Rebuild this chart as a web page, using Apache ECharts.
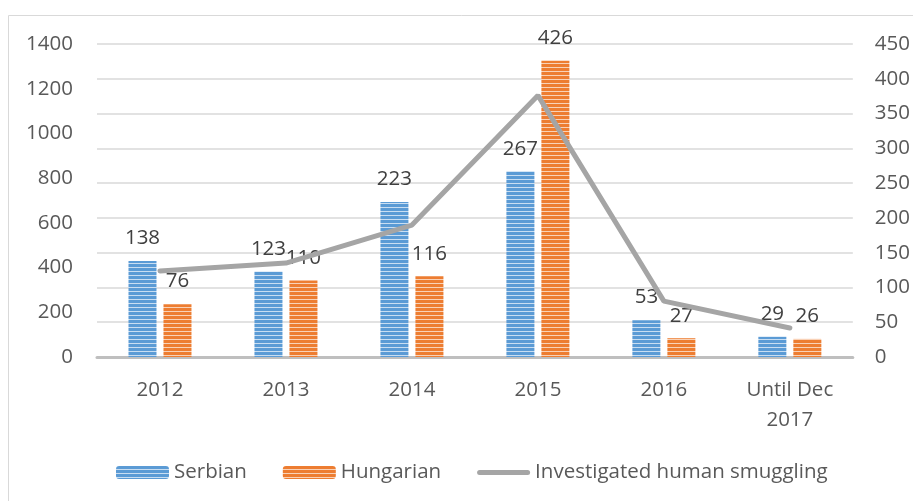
<!DOCTYPE html>
<html>
<head>
<meta charset="utf-8">
<script src="https://cdn.jsdelivr.net/npm/echarts@6/dist/echarts.min.js"></script>
<style>
  html, body { margin: 0; padding: 0; background: #fff; }
  #chart { width: 913px; height: 501px; }
</style>
</head>
<body>
<div id="chart"></div>
<script>
const categories = ["2012", "2013", "2014", "2015", "2016", "Until Dec\n2017"];
const serbian = [138, 123, 223, 267, 53, 29];
const hungarian = [76, 110, 116, 426, 27, 26];
const investigated = [385, 420, 590, 1170, 250, 130];

const font = '"Open Sans", sans-serif';
const fs = 20.5;

// horizontal striped fill like the Office "narrow horizontal" pattern
const stripes = (base, light) => {
  const c = document.createElement("canvas");
  c.width = 4;
  c.height = 4;
  const ctx = c.getContext("2d");
  ctx.fillStyle = base;
  ctx.fillRect(0, 0, 4, 4);
  ctx.fillStyle = light;
  ctx.fillRect(0, 3, 4, 1);
  return { image: c, repeat: "repeat" };
};

const chart = echarts.init(document.getElementById("chart"));

const barLabel = {
  show: true,
  position: "top",
  distance: 12,
  color: "#404040",
  fontSize: fs,
  fontFamily: font,
};

chart.setOption({
  animation: false,
  textStyle: { fontFamily: font },
  graphic: [
    {
      type: "rect",
      shape: { x: 8.5, y: 15.5, width: 1000, height: 1000 },
      style: { fill: "none", stroke: "#d9d9d9", lineWidth: 1 },
      silent: true,
    },
  ],
  grid: { left: 97, right: 60, top: 44, bottom: 144 },
  legend: {
    left: 111,
    top: 457,
    itemWidth: 53,
    itemHeight: 13,
    itemGap: 36,
    textStyle: { color: "#595959", fontSize: fs, fontFamily: font },
    data: [
      "Serbian",
      "Hungarian",
      {
        name: "Investigated human smuggling",
        icon: "path://M2.5,0 L50.5,0 A2.5,2.5 0 0 1 50.5,5 L2.5,5 A2.5,2.5 0 0 1 2.5,0 Z",
      },
    ],
  },
  xAxis: {
    type: "category",
    data: categories,
    axisLine: { lineStyle: { color: "#bfbfbf", width: 3 } },
    axisTick: { show: false },
    axisLabel: {
      color: "#595959",
      fontSize: fs,
      margin: 18,
      lineHeight: 30,
    },
  },
  yAxis: [
    {
      type: "value",
      min: 0,
      max: 1400,
      interval: 200,
      axisLine: { show: false },
      axisTick: { show: false },
      splitLine: { show: false },
      axisLabel: {
        color: "#595959",
        fontSize: fs,
        margin: 24,
        formatter: (v) => String(v),
      },
    },
    {
      type: "value",
      min: 0,
      max: 450,
      interval: 50,
      axisLine: { show: false },
      axisTick: { show: false },
      splitLine: { show: true, lineStyle: { color: "#d9d9d9", width: 1.5 } },
      axisLabel: { color: "#595959", fontSize: fs, margin: 22 },
    },
  ],
  series: [
    {
      name: "Serbian",
      type: "bar",
      yAxisIndex: 1,
      data: serbian,
      barGap: "25%",
      barCategoryGap: "50%",
      itemStyle: { color: stripes("#5b9bd5", "#c9def2") },
      label: barLabel,
      z: 2,
    },
    {
      name: "Hungarian",
      type: "bar",
      yAxisIndex: 1,
      data: hungarian,
      itemStyle: { color: stripes("#ed7d31", "#f9d2b7") },
      label: barLabel,
      z: 2,
    },
    {
      name: "Investigated human smuggling",
      type: "line",
      yAxisIndex: 0,
      data: investigated,
      symbol: "none",
      lineStyle: { color: "#a5a5a5", width: 5, cap: "round" },
      itemStyle: { color: "#a5a5a5" },
      z: 3,
    },
  ],
});
</script>
</body>
</html>
